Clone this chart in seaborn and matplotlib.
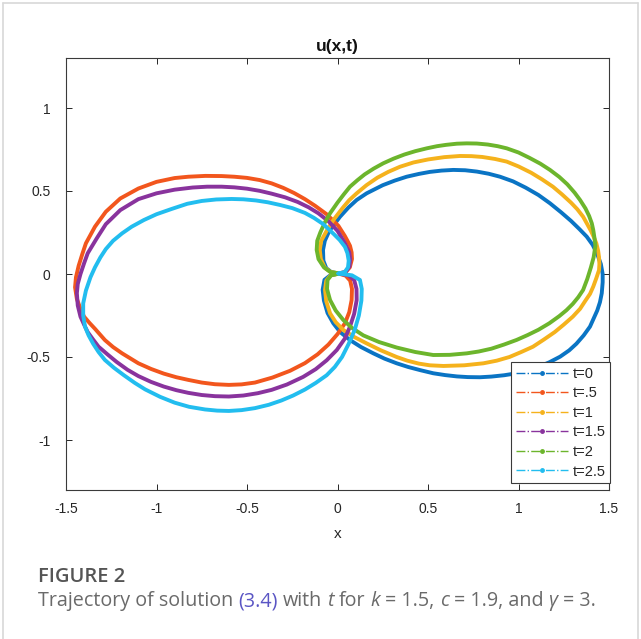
import numpy as np
import pandas as pd
import matplotlib
matplotlib.use("Agg")
import matplotlib.pyplot as plt
from matplotlib.lines import Line2D
import seaborn as sns

# traced points of each trajectory (closed loops)
t0_x = [0.01, -0.035, -0.062, -0.078, -0.08, -0.07, -0.045, 0.014, 0.06, 0.106, 0.161, 0.25, 0.317, 0.382,
        0.45, 0.51, 0.575, 0.64, 0.705, 0.77, 0.835, 0.898, 0.97, 1.04, 1.11, 1.174, 1.235, 1.29, 1.337,
        1.377, 1.41, 1.435, 1.455, 1.465, 1.465, 1.46, 1.45, 1.435, 1.395, 1.36, 1.32, 1.28, 1.23, 1.17,
        1.11, 1.05, 0.99, 0.92, 0.85, 0.787, 0.72, 0.66, 0.595, 0.529, 0.46, 0.39, 0.327, 0.26, 0.198,
        0.13, 0.069, 0.015, -0.023, -0.055, -0.075, -0.082, -0.072, -0.04, 0.01]
t0_y = [0.003, 0.012, 0.035, 0.08, 0.145, 0.2, 0.26, 0.345, 0.4, 0.446, 0.486, 0.535, 0.563, 0.586,
        0.603, 0.615, 0.623, 0.627, 0.625, 0.617, 0.604, 0.586, 0.558, 0.52, 0.476, 0.426, 0.372, 0.32, 0.27,
        0.225, 0.175, 0.12, 0.06, 0.0, -0.05, -0.116, -0.17, -0.22, -0.317, -0.37, -0.42, -0.46, -0.498, -0.532,
        -0.56, -0.582, -0.598, -0.61, -0.618, -0.622, -0.621, -0.617, -0.609, -0.598, -0.58, -0.56, -0.538, -0.51,
        -0.478, -0.44, -0.398, -0.35, -0.297, -0.235, -0.16, -0.095, -0.035, -0.008, 0.003]

t05_x = [0.005, 0.045, 0.068, 0.08, 0.078, 0.069, 0.055, 0.04, 0.005, -0.03, -0.06, -0.124, -0.18, -0.24,
         -0.3, -0.364, -0.43, -0.5, -0.57, -0.64, -0.73, -0.824, -0.9, -1.0, -1.1, -1.2, -1.28, -1.34, -1.39,
         -1.41, -1.43, -1.445, -1.45, -1.44, -1.42, -1.4, -1.37, -1.34, -1.285, -1.24, -1.19, -1.1, -1.03,
         -0.96, -0.89, -0.824, -0.75, -0.677, -0.6, -0.53, -0.456, -0.36, -0.262, -0.18, -0.11, -0.05, 0.0,
         0.041, 0.065, 0.078, 0.08, 0.07, 0.045, 0.005]
t05_y = [0.003, 0.012, 0.04, 0.09, 0.13, 0.17, 0.2, 0.23, 0.29, 0.328, 0.36, 0.411, 0.451, 0.488,
         0.519, 0.546, 0.566, 0.579, 0.586, 0.59, 0.591, 0.586, 0.578, 0.555, 0.515, 0.455, 0.375, 0.285, 0.185,
         0.12, 0.05, -0.02, -0.08, -0.15, -0.21, -0.257, -0.295, -0.33, -0.398, -0.44, -0.478, -0.538, -0.572,
         -0.6, -0.622, -0.638, -0.654, -0.664, -0.668, -0.665, -0.654, -0.624, -0.583, -0.537, -0.484, -0.425, -0.362,
         -0.297, -0.23, -0.157, -0.09, -0.04, -0.01, 0.003]

t1_x = [0.01, -0.038, -0.07, -0.092, -0.098, -0.09, -0.06, -0.023, 0.03, 0.065, 0.106, 0.16, 0.22, 0.28,
        0.345, 0.42, 0.5, 0.59, 0.677, 0.74, 0.8, 0.87, 0.935, 1.0, 1.07, 1.13, 1.19, 1.24, 1.29, 1.325,
        1.357, 1.38, 1.4, 1.415, 1.43, 1.44, 1.445, 1.447, 1.445, 1.43, 1.413, 1.395, 1.37, 1.34, 1.3,
        1.25, 1.2, 1.14, 1.08, 1.015, 0.95, 0.88, 0.806, 0.7, 0.585, 0.51, 0.45, 0.385, 0.327, 0.24,
        0.161, 0.09, 0.032, -0.01, -0.041, -0.062, -0.069, -0.062, -0.038, 0.01]
t1_y = [0.003, 0.012, 0.038, 0.09, 0.145, 0.2, 0.26, 0.325, 0.4, 0.445, 0.486, 0.535, 0.58, 0.615,
        0.646, 0.672, 0.69, 0.704, 0.711, 0.71, 0.705, 0.693, 0.677, 0.648, 0.61, 0.57, 0.526, 0.48, 0.43, 0.39,
        0.345, 0.3, 0.26, 0.225, 0.185, 0.14, 0.1, 0.06, 0.024, -0.025, -0.076, -0.12, -0.16, -0.21, -0.257,
        -0.305, -0.35, -0.395, -0.438, -0.47, -0.5, -0.522, -0.538, -0.55, -0.554, -0.55, -0.54, -0.522, -0.5, -0.46,
        -0.418, -0.378, -0.337, -0.29, -0.237, -0.165, -0.096, -0.04, -0.008, 0.003]

t15_x = [0.005, 0.045, 0.066, 0.07, 0.065, 0.041, 0.0, -0.05, -0.106, -0.16, -0.22, -0.29, -0.364, -0.43,
         -0.5, -0.57, -0.64, -0.72, -0.8, -0.9, -1.0, -1.1, -1.2, -1.28, -1.33, -1.38, -1.4, -1.42, -1.435,
         -1.44, -1.435, -1.42, -1.4, -1.38, -1.35, -1.32, -1.27, -1.22, -1.16, -1.1, -1.03, -0.96, -0.89,
         -0.824, -0.75, -0.677, -0.6, -0.52, -0.44, -0.364, -0.28, -0.19, -0.12, -0.06, -0.004, 0.04, 0.069,
         0.092, 0.106, 0.105, 0.092, 0.06, 0.005]
t15_y = [0.003, 0.012, 0.045, 0.09, 0.13, 0.185, 0.26, 0.318, 0.366, 0.402, 0.434, 0.462, 0.484, 0.501,
         0.514, 0.522, 0.526, 0.526, 0.521, 0.508, 0.486, 0.451, 0.385, 0.3, 0.215, 0.125, 0.065, 0.0, -0.06,
         -0.116, -0.19, -0.257, -0.305, -0.35, -0.395, -0.438, -0.485, -0.53, -0.577, -0.615, -0.65, -0.678, -0.7,
         -0.716, -0.729, -0.736, -0.738, -0.732, -0.718, -0.698, -0.666, -0.62, -0.573, -0.52, -0.458, -0.39, -0.317,
         -0.24, -0.157, -0.09, -0.036, -0.008, 0.003]

t2_x = [0.01, -0.04, -0.075, -0.105, -0.115, -0.112, -0.095, -0.07, -0.041, 0.0, 0.035, 0.069, 0.11, 0.15,
        0.2, 0.253, 0.31, 0.37, 0.43, 0.493, 0.55, 0.6, 0.66, 0.714, 0.77, 0.83, 0.885, 0.935, 1.0, 1.06,
        1.12, 1.174, 1.225, 1.27, 1.31, 1.34, 1.37, 1.39, 1.405, 1.413, 1.42, 1.425, 1.415, 1.4, 1.38,
        1.357, 1.33, 1.3, 1.265, 1.225, 1.17, 1.11, 1.05, 0.99, 0.92, 0.85, 0.78, 0.714, 0.62, 0.529,
        0.43, 0.327, 0.23, 0.143, 0.08, 0.032, -0.01, -0.041, -0.058, -0.055, -0.035, 0.01]
t2_y = [0.003, 0.012, 0.04, 0.09, 0.145, 0.2, 0.25, 0.31, 0.366, 0.43, 0.48, 0.526, 0.565, 0.6,
        0.635, 0.667, 0.695, 0.72, 0.74, 0.757, 0.77, 0.778, 0.785, 0.787, 0.786, 0.78, 0.77, 0.757, 0.732, 0.7,
        0.665, 0.627, 0.585, 0.54, 0.49, 0.446, 0.395, 0.35, 0.305, 0.265, 0.215, 0.17, 0.1, 0.04, -0.03,
        -0.096, -0.14, -0.18, -0.218, -0.254, -0.297, -0.336, -0.368, -0.397, -0.425, -0.45, -0.467, -0.478, -0.487,
        -0.488, -0.47, -0.443, -0.41, -0.37, -0.325, -0.277, -0.22, -0.157, -0.09, -0.036, -0.008, 0.003]

t25_x = [0.005, 0.04, 0.058, 0.062, 0.055, 0.041, 0.012, -0.02, -0.078, -0.13, -0.18, -0.25, -0.318, -0.385,
         -0.45, -0.52, -0.585, -0.67, -0.75, -0.83, -0.916, -1.0, -1.07, -1.137, -1.19, -1.24, -1.28, -1.31,
         -1.34, -1.365, -1.39, -1.405, -1.405, -1.395, -1.375, -1.35, -1.32, -1.285, -1.235, -1.18, -1.12,
         -1.063, -0.98, -0.9, -0.82, -0.732, -0.665, -0.6, -0.53, -0.456, -0.38, -0.31, -0.245, -0.18, -0.12,
         -0.06, -0.015, 0.025, 0.062, 0.095, 0.118, 0.132, 0.134, 0.124, 0.08, 0.005]
t25_y = [0.003, 0.012, 0.04, 0.08, 0.125, 0.164, 0.205, 0.24, 0.3, 0.338, 0.368, 0.397, 0.416, 0.432,
         0.443, 0.45, 0.452, 0.449, 0.44, 0.423, 0.392, 0.36, 0.325, 0.285, 0.245, 0.2, 0.15, 0.1,
         0.04, -0.02, -0.1, -0.177, -0.25, -0.317, -0.37, -0.42, -0.47, -0.518, -0.565, -0.61, -0.656,
         -0.695, -0.74, -0.775, -0.8, -0.816, -0.823, -0.825, -0.82, -0.808, -0.788, -0.762, -0.732, -0.696, -0.656,
         -0.61, -0.56, -0.5, -0.42, -0.337, -0.25, -0.16, -0.09, -0.036, -0.008, 0.003]

labels = ["t=0", "t=.5", "t=1", "t=1.5", "t=2", "t=2.5"]
colors = ["#0A74C4", "#F2561D", "#F5B21C", "#89339D", "#6CB52C", "#22BDEF"]
xticks = [-1.5, -1, -0.5, 0, 0.5, 1, 1.5]
xtick_labels = ["-1.5", "-1", "-0.5", "0", "0.5", "1", "1.5"]
yticks = [-1, -0.5, 0, 0.5, 1]
ytick_labels = ["-1", "-0.5", "0", "0.5", "1"]

curves = [(t0_x, t0_y), (t05_x, t05_y), (t1_x, t1_y), (t15_x, t15_y), (t2_x, t2_y), (t25_x, t25_y)]

sns.set_style("ticks")
plt.rcParams["font.family"] = ["Liberation Sans", "DejaVu Sans"]

fig = plt.figure(figsize=(6.41, 6.39), dpi=100)
W, H = 641, 639
ax = fig.add_axes([66 / W, (639 - 489.8) / H, 543 / W, 431.6 / H])

for (cx, cy), lab, col in zip(curves, labels, colors):
    df = pd.DataFrame({"x": cx, "y": cy})
    sns.lineplot(data=df, x="x", y="y", sort=False, estimator=None, color=col,
                 linewidth=2.8, ax=ax, legend=False)
for ln in ax.get_lines():
    ln.set_solid_joinstyle("round")
    ln.set_solid_capstyle("round")

ax.set_xlim(-1.5, 1.5)
ax.set_ylim(-1.3, 1.3)
ax.set_xticks(xticks)
ax.set_xticklabels(xtick_labels)
ax.set_yticks(yticks)
ax.set_yticklabels(ytick_labels)
ax.tick_params(direction="in", top=True, right=True, length=4, width=0.7,
               labelsize=10, colors="#262626")
ax.tick_params(axis="x", pad=9)
ax.tick_params(axis="y", pad=11)
for sp in ax.spines.values():
    sp.set_visible(True)
    sp.set_color("#3a3a3a")
    sp.set_linewidth(0.8)
ax.set_xlabel("x", fontsize=11, color="#262626", labelpad=8)
ax.set_ylabel("")
ax.set_title("u(x,t)", fontsize=12.5, fontweight="bold", color="#111111", pad=5)

handles = [Line2D([0], [0], color=c, linestyle="-.", marker=".", markersize=5, linewidth=1.0)
           for c in colors]
leg = ax.legend(handles, labels, loc="lower right", bbox_to_anchor=(1.002, 0.016),
                borderaxespad=0, fontsize=10.5, handlelength=3.6, handletextpad=0.3,
                labelspacing=0.38, borderpad=0.3, fancybox=False, framealpha=1,
                edgecolor="#3a3a3a", numpoints=1)
leg.get_frame().set_linewidth(0.8)
for txt in leg.get_texts():
    txt.set_color("#262626")

# light page frame
for xs, ys in [([3 / W, 638 / W], [1 - 3 / H, 1 - 3 / H]),
               ([3 / W, 3 / W], [0, 1 - 3 / H]),
               ([638 / W, 638 / W], [0, 1 - 3 / H])]:
    fig.add_artist(Line2D(xs, ys, transform=fig.transFigure, color="#d8d8d8", linewidth=1.2))

# caption
cap_font = ["Open Sans", "DejaVu Sans"]
cap_size = 14.2
fig.text(38 / W, 1 - 577 / H, "FIGURE 2", fontsize=14.5, fontweight="semibold",
         color="#555555", family=cap_font, va="center")

fig.canvas.draw()
renderer = fig.canvas.get_renderer()


def text_width(t):
    return t.get_window_extent(renderer).width


probe1 = fig.text(0, 0, "a a", fontsize=cap_size, family=cap_font)
probe2 = fig.text(0, 0, "aa", fontsize=cap_size, family=cap_font)
space = text_width(probe1) - text_width(probe2)
probe1.remove()
probe2.remove()

pieces = [("Trajectory of solution", "normal", "#6a6a6a", True),
          ("(3.4)", "normal", "#5a55c4", True),
          ("with", "normal", "#6a6a6a", True),
          ("t", "italic", "#6a6a6a", True),
          ("for", "normal", "#6a6a6a", True),
          ("k", "italic", "#6a6a6a", True),
          ("= 1.5,", "normal", "#6a6a6a", True),
          ("c", "italic", "#6a6a6a", True),
          ("= 1.9, and", "normal", "#6a6a6a", True),
          ("\u03b3", "italic", "#6a6a6a", True),
          ("= 3.", "normal", "#6a6a6a", False)]
xpos = 38.0
for s, style, col, gap in pieces:
    t = fig.text(xpos / W, 1 - 601 / H, s, fontsize=cap_size, fontstyle=style, color=col,
                 family=cap_font, va="center")
    xpos += text_width(t) + (space if gap else 0)

fig.savefig("out.png", dpi=100)
